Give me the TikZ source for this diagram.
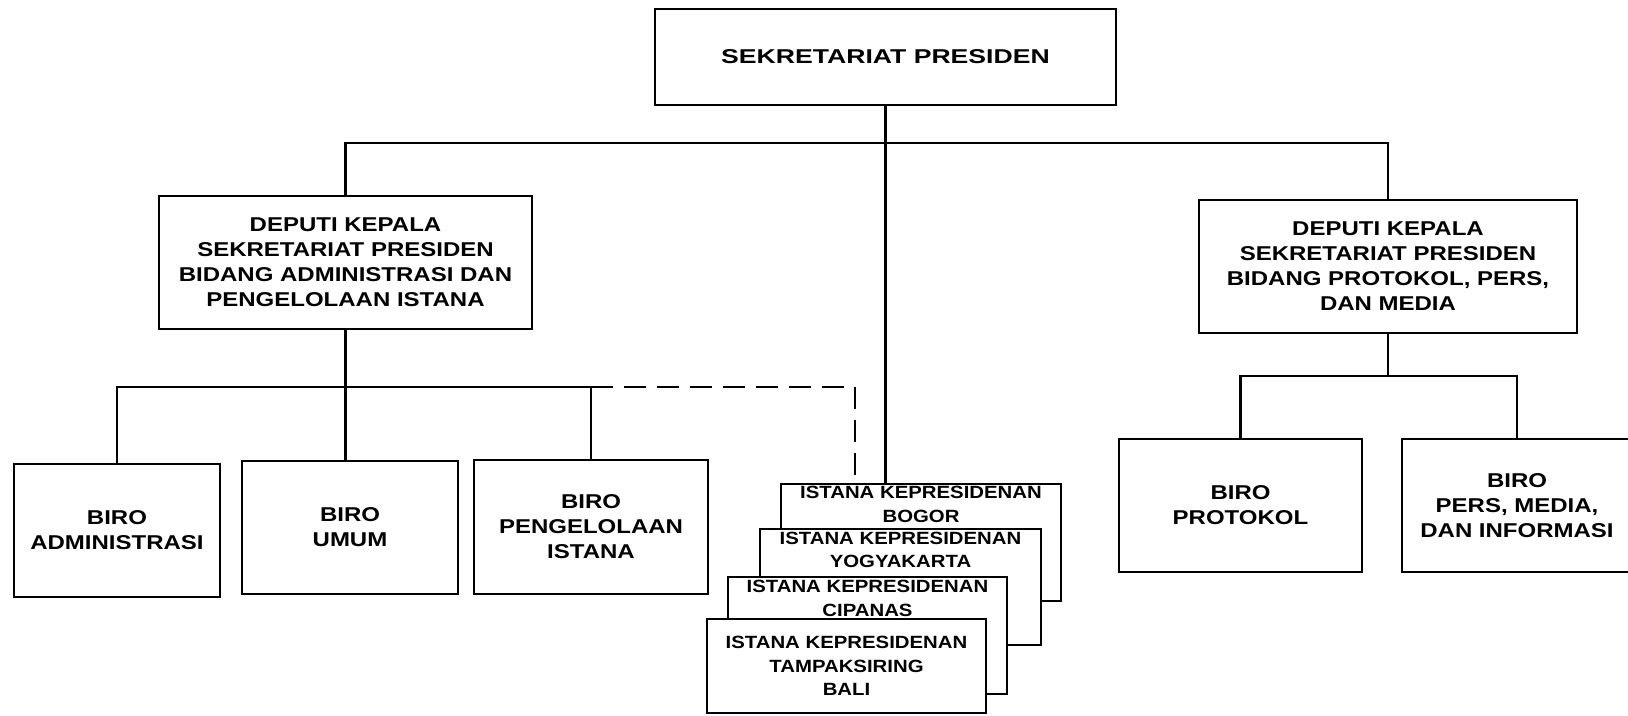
\documentclass[tikz,border=0pt]{standalone}
\usepackage{fontspec}
\setmainfont{Liberation Sans}
% Wide bold sans faces used for the chart labels
\newfontfamily\chartfont[FakeStretch=1.2]{Liberation Sans}
\newfontfamily\headfont[FakeStretch=1.33]{Liberation Sans}
\newfontfamily\palacefont[FakeStretch=1.15]{Liberation Sans}

\tikzset{
  unit/.style={draw, line width=2.2pt, fill=white, inner sep=0pt, align=center},
  unittext/.style={font=\chartfont\bfseries\fontsize{20}{25}\selectfont},
  headtext/.style={font=\headfont\bfseries\fontsize{20}{25}\selectfont},
  palacetext/.style={font=\palacefont\bfseries\fontsize{17.7}{23.5}\selectfont, align=center, inner sep=0pt},
  link/.style={line width=2.2pt},
  dashlink/.style={line width=2.2pt, dash pattern=on 22pt off 11pt},
}

\begin{document}
\begin{tikzpicture}[x=1pt, y=-1pt]
\path[use as bounding box, fill=white] (0,0) rectangle (1628,715);

% Top level
\node[unit, headtext, minimum width=461pt, minimum height=96pt] (top) at (885.5,57) {SEKRETARIAT PRESIDEN};

% Deputies
\node[unit, unittext, minimum width=373pt, minimum height=133pt] (depL) at (345.5,262.5)
  {DEPUTI KEPALA\\SEKRETARIAT PRESIDEN\\BIDANG ADMINISTRASI DAN\\PENGELOLAAN ISTANA};
\node[unit, unittext, minimum width=378pt, minimum height=133pt] (depR) at (1388,266.5)
  {DEPUTI KEPALA\\SEKRETARIAT PRESIDEN\\BIDANG PROTOKOL, PERS,\\DAN MEDIA};

% Bureaus under the administration deputy
\node[unit, unittext, minimum width=206pt, minimum height=133pt] (adm) at (117,530.5) {BIRO\\ADMINISTRASI};
\node[unit, unittext, minimum width=216pt, minimum height=133pt] (umum) at (350,527.5) {BIRO\\UMUM};
\node[unit, unittext, minimum width=234pt, minimum height=134pt] (pgl) at (591,527) {BIRO\\PENGELOLAAN\\ISTANA};

% Bureaus under the protocol deputy
\node[unit, unittext, minimum width=243pt, minimum height=133pt] (prot) at (1240.5,505.5) {BIRO\\PROTOKOL};
\node[unit, unittext, minimum width=230pt, minimum height=133pt] (pers) at (1517,505.5) {BIRO\\PERS, MEDIA,\\DAN INFORMASI};

% Stacked presidential palaces (back to front)
\node[unit, minimum width=280pt, minimum height=117pt] (bogor) at (921,542.5) {};
\node[palacetext, anchor=north] (bogorT) at ([yshift=-3.5pt]bogor.north) {ISTANA KEPRESIDENAN\\BOGOR};
\node[unit, minimum width=281pt, minimum height=116pt] (yogya) at (900.5,587) {};
\node[palacetext, anchor=north] (yogyaT) at ([yshift=-4pt]yogya.north) {ISTANA KEPRESIDENAN\\YOGYAKARTA};
\node[unit, minimum width=279pt, minimum height=117pt] (cipanas) at (867.5,635.5) {};
\node[palacetext, anchor=north] (cipanasT) at ([yshift=-4.5pt]cipanas.north) {ISTANA KEPRESIDENAN\\CIPANAS};
\node[unit, palacetext, draw, line width=2.2pt, fill=white, minimum width=279pt, minimum height=94pt] (bali) at (846.5,666)
  {ISTANA KEPRESIDENAN\\TAMPAKSIRING\\BALI};

% Bus lines
\coordinate (busTop) at (0,143);
\coordinate (busLeft) at (0,387);
\coordinate (busRight) at (0,376);
\coordinate (dashTurn) at (855,387);

% Connectors
\draw[link] (top.south) -- (top.south |- bogor.north);
\draw[link] (depL.north) -- (depL.north |- busTop) -- (depR.north |- busTop) -- (depR.north);

\draw[link] (depL.south) -- (depL.south |- umum.north);
\draw[link] (adm.north) -- (adm.north |- busLeft) -- (pgl.north |- busLeft) -- (pgl.north);
\draw[dashlink] (pgl.north |- dashTurn) -- (dashTurn) -- (dashTurn |- bogor.north);

\draw[link] (depR.south) -- (depR.south |- busRight);
\draw[link] (prot.north) -- (prot.north |- busRight) -- (pers.north |- busRight) -- (pers.north);
\end{tikzpicture}
\end{document}
